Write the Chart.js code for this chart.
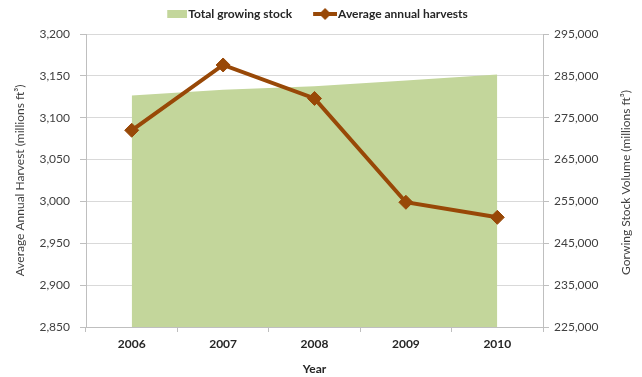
<!DOCTYPE html>
<html>
<head>
<meta charset="utf-8">
<script src="https://cdn.jsdelivr.net/npm/chart.js@4"></script>
<style>
  body { margin: 0; background: #fff; }
  #wrap { width: 642px; height: 377px; }
</style>
</head>
<body>
<div id="wrap"><canvas id="chart" width="642" height="377"></canvas></div>
<script>
const years = ['2006', '2007', '2008', '2009', '2010'];
const growingStock = [280300, 281700, 282500, 283900, 285300];
const annualHarvest = [3085, 3163, 3123, 2999, 2981];

const GREEN = '#c3d69b';
const BROWN = '#984807';
const FONT = 'Lato, "DejaVu Sans", sans-serif';
const rightTitle = 'Gorwing Stock Volume (millions ft³)';

// legend symbols: 40px canvases, symbol pushed to the right edge so it sits next to the text
function boxIcon() {
    const c = document.createElement('canvas');
    c.width = 40; c.height = 8;
    const g = c.getContext('2d');
    g.fillStyle = GREEN;
    g.fillRect(20, 0, 20, 8);
    return c;
}
function lineIcon() {
    const c = document.createElement('canvas');
    c.width = 40; c.height = 12;
    const g = c.getContext('2d');
    g.strokeStyle = BROWN;
    g.lineWidth = 4;
    g.beginPath(); g.moveTo(16, 6); g.lineTo(40, 6); g.stroke();
    g.fillStyle = BROWN;
    g.beginPath(); g.moveTo(28, 0); g.lineTo(34, 6); g.lineTo(28, 12); g.lineTo(22, 6); g.closePath(); g.fill();
    return c;
}

const fmt = v => Number(v).toLocaleString('en-US');

// a bit of extra room under the legend, legend nudged left, right axis title read bottom-to-top
const extras = {
    id: 'extras',
    beforeLayout(chart) {
        const lg = chart.legend;
        if (lg && !lg._extraFit) {
            const fit = lg.fit.bind(lg);
            lg.fit = function () { fit(); this.height += 4; };
            lg._extraFit = true;
        }
    },
    afterLayout(chart) {
        const lg = chart.legend;
        if (lg) { lg.left -= 11; lg.right -= 11; }
    },
    afterDraw(chart) {
        const { ctx, chartArea } = chart;
        ctx.save();
        ctx.translate(626, (chartArea.top + chartArea.bottom) / 2 + 2);
        ctx.rotate(-Math.PI / 2);
        ctx.textAlign = 'center';
        ctx.textBaseline = 'middle';
        ctx.fillStyle = '#404040';
        ctx.font = '12px ' + FONT;
        ctx.fillText(rightTitle, 0, 0);
        ctx.restore();
    }
};

const ctx = document.getElementById('chart').getContext('2d');
const chart = new Chart(ctx, {
    type: 'line',
    data: {
        labels: years,
        datasets: [{
            label: 'Total growing stock',
            data: growingStock,
            yAxisID: 'y2',
            fill: 'origin',
            backgroundColor: GREEN,
            borderWidth: 0,
            pointRadius: 0,
            tension: 0,
            order: 2
        }, {
            label: 'Average annual harvests',
            data: annualHarvest,
            yAxisID: 'y',
            borderColor: BROWN,
            backgroundColor: BROWN,
            borderWidth: 4,
            pointStyle: 'rectRot',
            pointRadius: 7,
            pointBorderWidth: 1,
            tension: 0,
            fill: false,
            order: 1
        }]
    },
    plugins: [extras],
    options: {
        responsive: false,
        animation: false,
        layout: { padding: { top: -2, left: 0, right: 0, bottom: 0 } },
        plugins: {
            tooltip: { enabled: false },
            legend: {
                position: 'top',
                labels: {
                    usePointStyle: true,
                    pointStyleWidth: 30,
                    padding: 10,
                    color: '#262626',
                    font: { family: FONT, size: 12, weight: 'bold' },
                    generateLabels: () => [
                        { text: 'Total growing stock', pointStyle: boxIcon(), datasetIndex: 0, lineWidth: 0, fontColor: '#262626' },
                        { text: 'Average annual harvests', pointStyle: lineIcon(), datasetIndex: 1, lineWidth: 0, fontColor: '#262626' }
                    ]
                }
            }
        },
        scales: {
            x: {
                offset: true,
                grid: { offset: true, drawOnChartArea: false, drawTicks: true, tickLength: 5, color: '#bfbfbf' },
                border: { color: '#bfbfbf' },
                ticks: { color: '#262626', padding: 5, font: { family: FONT, size: 12, weight: 'bold' } },
                title: { display: true, text: 'Year', color: '#262626', padding: { top: 2, bottom: 1 }, font: { family: FONT, size: 12, weight: 'bold' } },
                afterFit: s => { s.height = 50; }
            },
            y: {
                position: 'left',
                min: 2850,
                max: 3200,
                ticks: { stepSize: 50, color: '#404040', padding: 10, callback: fmt, font: { family: FONT, size: 12 } },
                grid: { color: '#d9d9d9', tickLength: 6, tickColor: '#bfbfbf' },
                border: { color: '#bfbfbf' },
                title: { display: true, text: 'Average Annual Harvest (millions ft³)', color: '#404040', padding: { top: 13, bottom: 4 }, font: { family: FONT, size: 12 } },
                afterFit: s => { s.width = 86; }
            },
            y2: {
                position: 'right',
                min: 225000,
                max: 295000,
                ticks: { stepSize: 10000, color: '#404040', padding: 5, callback: fmt, font: { family: FONT, size: 12 } },
                grid: { drawOnChartArea: false, tickLength: 6, color: '#bfbfbf' },
                border: { color: '#bfbfbf' },
                title: { display: false },
                afterFit: s => { s.width = 99; }
            }
        }
    }
});
</script>
</body>
</html>
